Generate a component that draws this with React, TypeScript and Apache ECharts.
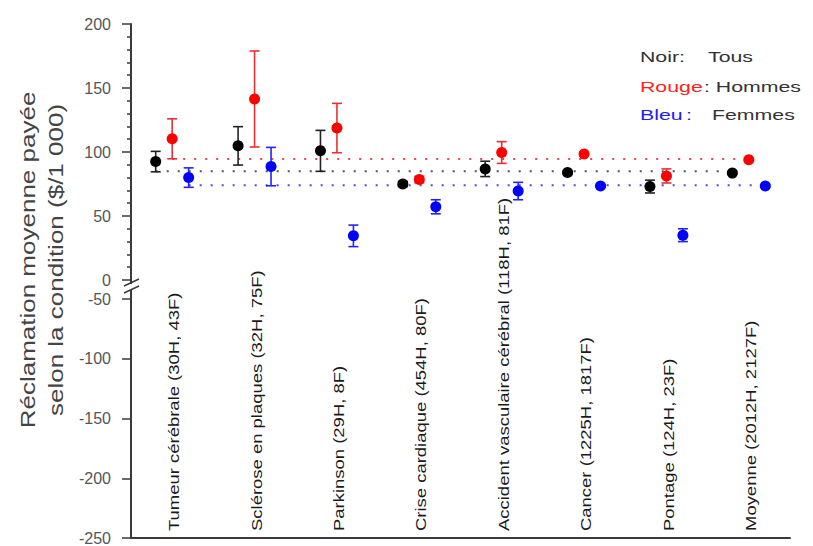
import React, { useEffect, useRef } from "react";
import * as echarts from "echarts";

const categories = [
  "Tumeur cérébrale (30H, 43F)",
  "Sclérose en plaques (32H, 75F)",
  "Parkinson (29H, 8F)",
  "Crise cardiaque (454H, 80F)",
  "Accident vasculaire cérébral (118H, 81F)",
  "Cancer (1225H, 1817F)",
  "Pontage (124H, 23F)",
  "Moyenne (2012H, 2127F)",
];

const tousValues = [92.5, 104.8, 100.9, 75, 86.8, 84, 73, 83.5];
const tousErrors = [8, 15, 16, 2, 6, 1.5, 5, 1];
const hommesValues = [110.3, 141.4, 118.7, 78.5, 99.6, 98.5, 81.3, 94];
const hommesErrors = [15.6, 37.5, 19.3, 2.5, 8.5, 1.5, 5.5, 1];
const femmesValues = [80, 88.6, 34.5, 57.2, 69.5, 73.5, 35, 73.5];
const femmesErrors = [7.6, 15, 8.4, 5.5, 6.8, 1, 5, 1];

const refTous = 85;
const refHommes = 94.5;
const refFemmes = 74;

const topTicks = [0, 50, 100, 150, 200];
const bottomTicks = [-250, -200, -150, -100, -50];

const FONT = '"Liberation Sans", Arial, sans-serif';

const groups = [
  { name: "Tous", values: tousValues, errors: tousErrors, offset: -0.2, marker: "#000000", bar: "#222222", ref: refTous, refColor: "#555555" },
  { name: "Hommes", values: hommesValues, errors: hommesErrors, offset: 0, marker: "#ff0000", bar: "#e83030", ref: refHommes, refColor: "#e84848" },
  { name: "Femmes", values: femmesValues, errors: femmesErrors, offset: 0.2, marker: "#0000ff", bar: "#2424f0", ref: refFemmes, refColor: "#4848f0" },
];

function errorRender(color: string) {
  return (params: any, api: any) => {
    const x = api.value(0);
    const lo = api.coord([x, api.value(1)]);
    const hi = api.coord([x, api.value(2)]);
    const half = 5;
    const style = { stroke: color, lineWidth: 1.6 };
    return {
      type: "group",
      children: [
        { type: "line", shape: { x1: lo[0], y1: lo[1], x2: hi[0], y2: hi[1] }, style },
        { type: "line", shape: { x1: hi[0] - half, y1: hi[1], x2: hi[0] + half, y2: hi[1] }, style },
        { type: "line", shape: { x1: lo[0] - half, y1: lo[1], x2: lo[0] + half, y2: lo[1] }, style },
      ],
    };
  };
}

export default function App() {
  const ref = useRef<HTMLDivElement>(null);

  useEffect(() => {
    if (!ref.current) return;
    const chart = echarts.init(ref.current, null, { renderer: "svg" });

    const series: any[] = [];
    groups.forEach((g) => {
      const first = g.offset;
      const last = categories.length - 1 + g.offset;
      series.push({
        type: "line",
        xAxisIndex: 0,
        yAxisIndex: 0,
        data: [
          [first, g.ref],
          [last, g.ref],
        ],
        symbol: "none",
        lineStyle: { color: g.refColor, width: 2, type: [2, 9] },
        z: 1,
        silent: true,
      });
    });
    groups.forEach((g) => {
      series.push({
        type: "custom",
        xAxisIndex: 0,
        yAxisIndex: 0,
        renderItem: errorRender(g.bar),
        encode: { x: 0, y: [1, 2] },
        data: g.values.map((v, i) => [i + g.offset, v - g.errors[i], v + g.errors[i]]),
        z: 2,
        silent: true,
      });
      series.push({
        type: "scatter",
        xAxisIndex: 0,
        yAxisIndex: 0,
        name: g.name,
        data: g.values.map((v, i) => [i + g.offset, v]),
        symbol: "circle",
        symbolSize: 11,
        itemStyle: { color: g.marker, opacity: 1 },
        z: 3,
      });
    });
    series.push({
      type: "custom",
      xAxisIndex: 1,
      yAxisIndex: 1,
      encode: { x: 0, y: 1 },
      data: categories.map((_, i) => [i, -250]),
      renderItem: (params: any, api: any) => {
        const p = api.coord([api.value(0), api.value(1)]);
        return {
          type: "text",
          x: p[0] + 2,
          y: p[1] - 7,
          rotation: Math.PI / 2,
          scaleX: 1.32,
          style: {
            text: categories[params.dataIndex],
            fill: "#1a1a1a",
            font: `14px ${FONT}`,
            align: "left",
            verticalAlign: "middle",
          },
        };
      },
      silent: true,
    });

    const axisLine = { show: true, onZero: false, lineStyle: { color: "#3a3a3a", width: 2 } };
    const axisLabel = { fontSize: 16, color: "#555555", fontFamily: FONT, margin: 20 };

    const legendItems = [
      { text: "Noir:", x: 640, y: 57, color: "#333333" },
      { text: "Tous", x: 708, y: 57, color: "#333333" },
      { text: "Rouge", x: 640, y: 87, color: "#ff2020" },
      { text: ": Hommes", x: 704, y: 87, color: "#333333" },
      { text: "Bleu", x: 640, y: 115, color: "#2020ff" },
      { text: ":", x: 686, y: 115, color: "#2020ff" },
      { text: "Femmes", x: 712, y: 115, color: "#333333" },
    ];

    chart.setOption({
      animation: false,
      backgroundColor: "#ffffff",
      textStyle: { fontFamily: FONT },
      grid: [
        { left: 131, top: 24, width: 659, height: 256 },
        { left: 131, top: 299, width: 659, height: 245 },
      ],
      xAxis: [
        { type: "value", gridIndex: 0, min: -0.5, max: 7.5, show: false },
        {
          type: "value",
          gridIndex: 1,
          min: -0.5,
          max: 7.5,
          axisLine: { show: true, onZero: false, lineStyle: { color: "#3a3a3a", width: 2 } },
          axisTick: { show: false },
          axisLabel: { show: false },
          splitLine: { show: false },
        },
      ],
      yAxis: [
        {
          type: "value",
          gridIndex: 0,
          min: topTicks[0],
          max: topTicks[topTicks.length - 1],
          interval: 50,
          axisLine,
          axisTick: { show: true, length: 9, lineStyle: { color: "#3a3a3a", width: 1.5 } },
          minorTick: { show: true, splitNumber: 5, length: 4, lineStyle: { color: "#3a3a3a", width: 1.5 } },
          axisLabel,
          splitLine: { show: false },
        },
        {
          type: "value",
          gridIndex: 1,
          min: bottomTicks[0],
          max: bottomTicks[bottomTicks.length - 1],
          interval: 50,
          axisLine,
          axisTick: { show: true, length: 9, lineStyle: { color: "#3a3a3a", width: 1.5 } },
          axisLabel,
          splitLine: { show: false },
        },
      ],
      graphic: [
        { type: "line", shape: { x1: 131, y1: 280, x2: 131, y2: 284 }, style: { stroke: "#3a3a3a", lineWidth: 2 } },
        { type: "line", shape: { x1: 131, y1: 290, x2: 131, y2: 299 }, style: { stroke: "#3a3a3a", lineWidth: 2 } },
        { type: "line", shape: { x1: 124, y1: 286, x2: 139, y2: 279 }, style: { stroke: "#3a3a3a", lineWidth: 1.5 } },
        { type: "line", shape: { x1: 124, y1: 293, x2: 139, y2: 286 }, style: { stroke: "#3a3a3a", lineWidth: 1.5 } },
        {
          type: "text",
          x: 28,
          y: 260,
          rotation: Math.PI / 2,
          scaleX: 1.3,
          style: { text: "Réclamation moyenne payée", font: `20px ${FONT}`, fill: "#444444", align: "center", verticalAlign: "middle" },
        },
        {
          type: "text",
          x: 56,
          y: 260,
          rotation: Math.PI / 2,
          scaleX: 1.3,
          style: { text: "selon la condition ($/1 000)", font: `20px ${FONT}`, fill: "#444444", align: "center", verticalAlign: "middle" },
        },
        ...legendItems.map((it) => ({
          type: "text",
          x: it.x,
          y: it.y,
          scaleX: 1.42,
          style: { text: it.text, font: `15px ${FONT}`, fill: it.color, align: "left", verticalAlign: "middle" },
        })),
      ],
      series,
    });

    return () => chart.dispose();
  }, []);

  return (
    <div
      ref={ref}
      style={{ position: "absolute", left: 0, top: 0, width: 813, height: 546, background: "#fff" }}
    />
  );
}
